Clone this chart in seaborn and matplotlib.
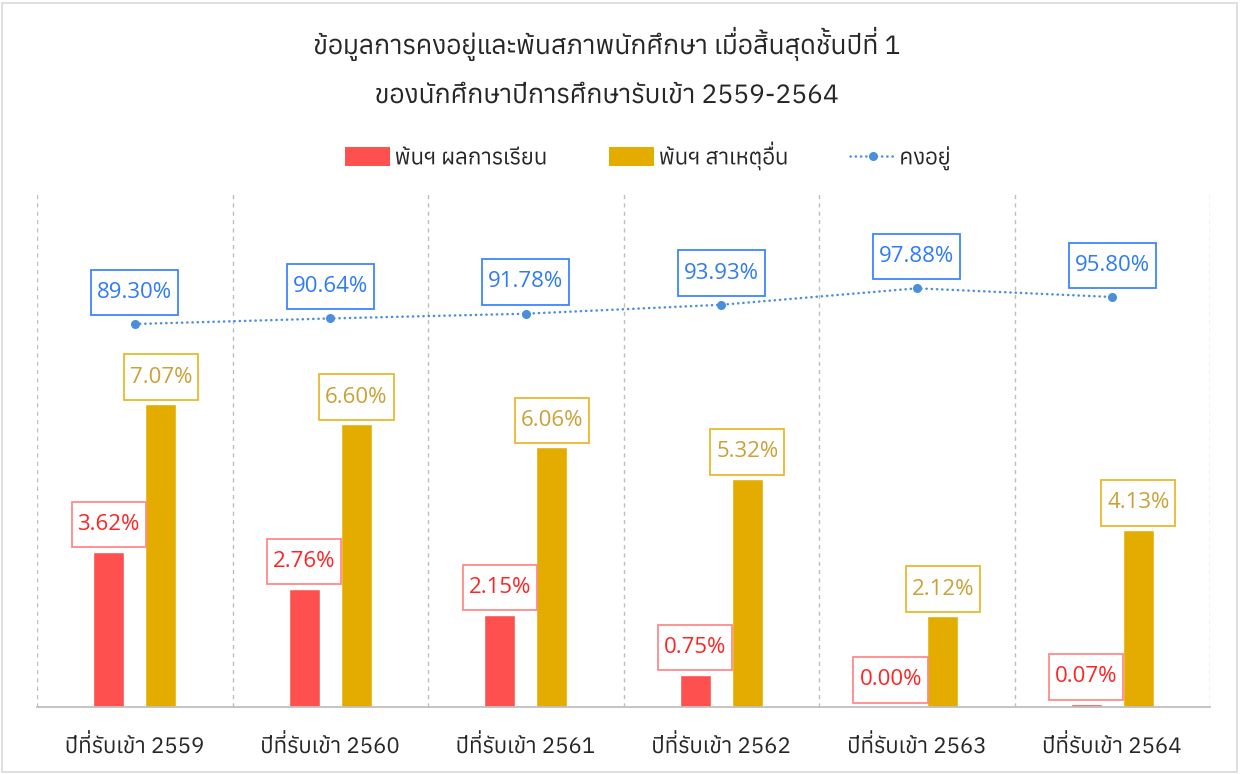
import numpy as np
import pandas as pd
import matplotlib
matplotlib.use("Agg")
import matplotlib.pyplot as plt
import seaborn as sns
from matplotlib import font_manager as fm
from matplotlib.ft2font import FT2Font
from matplotlib.path import Path
from matplotlib.patches import Patch, Rectangle, PathPatch
from matplotlib.lines import Line2D
from matplotlib.transforms import Affine2D
from matplotlib.textpath import text_to_path

# ---------------- data ----------------
categories = ["ปีที่รับเข้า 2559", "ปีที่รับเข้า 2560", "ปีที่รับเข้า 2561",
              "ปีที่รับเข้า 2562", "ปีที่รับเข้า 2563", "ปีที่รับเข้า 2564"]
dismissed_grades = [3.62, 2.76, 2.15, 0.75, 0.00, 0.07]
dismissed_other = [7.07, 6.60, 6.06, 5.32, 2.12, 4.13]
retained = [89.30, 90.64, 91.78, 93.93, 97.88, 95.80]
series_names = ["พ้นฯ ผลการเรียน", "พ้นฯ สาเหตุอื่น", "คงอยู่"]
title_lines = ["ข้อมูลการคงอยู่และพ้นสภาพนักศึกษา เมื่อสิ้นสุดชั้นปีที่ 1",
               "ของนักศึกษาปีการศึกษารับเข้า 2559-2564"]

# ---------------- styles ----------------
RED = "#FF5050"
GOLD = "#E5AC00"
BLUE_LINE = "#4A8EDC"
RED_TXT, RED_EDGE = "#FF2424", "#FF8A8A"
GOLD_TXT, GOLD_EDGE = "#C9A136", "#E9BA2E"
BLUE_TXT, BLUE_EDGE = "#2F7BF5", "#3D86FF"
DARK = "#262626"
DOTS = (0, (0.1, 2.0))


def thai_families():
    found = []
    for f in fm.fontManager.ttflist:
        try:
            cmap = FT2Font(f.fname).get_charmap()
        except Exception:
            continue
        if 0x0E01 in cmap and 0x0E49 in cmap:
            found.append(f.name)

    def rank(n):
        s = 0
        if "Serif" in n:
            s += 10
        if "Looped" in n:
            s += 2
        if "UI" in n:
            s += 1
        return s
    return sorted(set(found), key=lambda n: (rank(n), n))


sns.set_theme(style="white")
thai = thai_families()
FAM = thai[:1] + ["Open Sans", "DejaVu Sans"]
NUMFAM = ["Open Sans", "DejaVu Sans"]
plt.rcParams["font.family"] = FAM

# ---------- Thai mark stacking (matplotlib has no complex shaping) ----------
UPPER = set("\u0E31\u0E34\u0E35\u0E36\u0E37\u0E47\u0E4D")
TONE = set("\u0E48\u0E49\u0E4A\u0E4B\u0E4C")


def _real(v, c):
    if len(v) == 0:
        return v
    m = (c != Path.CLOSEPOLY) & (c != Path.STOP)
    return v[m] if m.any() else v[:0]


def shaped_path(s, prop):
    font = text_to_path._get_font(prop)
    font.set_size(text_to_path.FONT_SCALE, text_to_path.DPI)
    info, gmap, _ = text_to_path.get_glyphs_with_font(font, s)
    pieces = []
    for gid, x, y, sc in info:
        v, c = gmap[gid]
        v = np.asarray(v, float).reshape(-1, 2) * sc + [x, y]
        pieces.append([v, np.asarray(c).reshape(-1)])
    n = min(len(pieces), len(s))
    for i in range(1, n):
        if s[i] in TONE and s[i - 1] in UPPER:
            vv = _real(*pieces[i - 1])
            tv = _real(*pieces[i])
            if len(vv) and len(tv):
                shift = vv[:, 1].max() + 0.06 * text_to_path.FONT_SCALE - tv[:, 1].min()
                if shift > 0:
                    pieces[i][0][:, 1] += shift
    keep = [p for p in pieces if len(p[0])]
    verts = np.concatenate([p[0] for p in keep])
    codes = np.concatenate([p[1] for p in keep])
    real = np.concatenate([_real(*p) for p in keep])
    scale = prop.get_size_in_points() / text_to_path.FONT_SCALE
    return Path(verts * scale, codes), real * scale


def overlay(fig, t, renderer, color, baseline=None):
    s = t.get_text()
    if not s:
        return
    prop = t.get_fontproperties()
    bb = t.get_window_extent(renderer)
    _, _, d = renderer.get_text_width_height_descent(s, prop, ismath=False)
    _, _, dlp = renderer.get_text_width_height_descent("lp", prop, ismath=False)
    if baseline is None:
        baseline = bb.y0 + max(d, dlp)
    path, real = shaped_path(s, prop)
    cx = (real[:, 0].min() + real[:, 0].max()) / 2
    k = fig.dpi / 72
    tr = Affine2D().translate(-cx, 0).scale(k).translate((bb.x0 + bb.x1) / 2, baseline)
    fig.add_artist(PathPatch(path, transform=tr, fc=color, ec="none", lw=0))
    t.set_alpha(0)


def make_box(padx, pady):
    def box(x0, y0, width, height, mutation_size):
        px, py = padx * mutation_size, pady * mutation_size
        verts = [(x0 - px, y0 - py), (x0 + width + px, y0 - py),
                 (x0 + width + px, y0 + height + py), (x0 - px, y0 + height + py),
                 (x0 - px, y0 - py)]
        return Path(verts, closed=True)
    return box


LBL_FS = 16
PADX, PADY = 0.27, 0.55

W, H = 1241, 774
fig = plt.figure(figsize=(W / 100, H / 100), dpi=100)
ax = fig.add_axes([37 / W, 1 - 707 / H, (1210 - 37) / W, (707 - 193) / H])

df = pd.DataFrame({
    "category": categories * 2,
    "series": [series_names[0]] * len(categories) + [series_names[1]] * len(categories),
    "value": dismissed_grades + dismissed_other,
})
sns.barplot(data=df, x="category", y="value", hue="series", order=categories,
            hue_order=series_names[:2], palette=[RED, GOLD], saturation=1,
            width=0.532, gap=0.41, ax=ax, legend=False, errorbar=None)

ax.set_ylim(0, 12)
ax.set_xlim(-0.5, len(categories) - 0.5)
ax.set_xlabel("")
ax.set_ylabel("")
ax.set_yticks([])
ax.set_xticks(np.arange(-0.5, len(categories)), minor=True)
ax.grid(False)
ax.grid(which="minor", axis="x", color="#BDBDBD", linestyle=(0, (3, 3)), linewidth=1)
ax.tick_params(axis="x", which="both", length=0, pad=20, labelsize=16, labelcolor=DARK)
for s in ["left", "right", "top"]:
    ax.spines[s].set_visible(False)
ax.spines["bottom"].set_color("#BFBFBF")
ax.spines["bottom"].set_linewidth(1.3)


def label(axis, x, y, text, tcol, ecol, gap_pt):
    axis.annotate(text, (x, y), xytext=(0, gap_pt + PADY * LBL_FS),
                  textcoords="offset points", ha="center", va="bottom",
                  fontsize=LBL_FS, color=tcol, family=NUMFAM, zorder=5,
                  bbox=dict(boxstyle=make_box(PADX, PADY), fc="white",
                            ec=ecol, lw=1.3))


for container, vals, (tc, ec) in zip(ax.containers, [dismissed_grades, dismissed_other],
                                     [(RED_TXT, RED_EDGE), (GOLD_TXT, GOLD_EDGE)]):
    for bar, v in zip(container, vals):
        label(ax, bar.get_x() + bar.get_width() / 2, bar.get_height(),
              f"{v:.2f}%", tc, ec, 3.2)

ax2 = ax.twinx()
sns.lineplot(x=np.arange(len(categories)), y=retained, ax=ax2, color=BLUE_LINE,
             linestyle=DOTS, linewidth=1.8, marker="o", markersize=6.5,
             markeredgewidth=0, dash_capstyle="round")
ax2.set_ylim(-2.77, 120.8)
ax2.set_xlim(-0.5, len(categories) - 0.5)
ax2.set_yticks([])
ax2.set_ylabel("")
for s in ["left", "right", "top", "bottom"]:
    ax2.spines[s].set_visible(False)
for i, v in enumerate(retained):
    label(ax2, i, v, f"{v:.2f}%", BLUE_TXT, BLUE_EDGE, 6.5)

# title
t1 = fig.text(607 / W, 1 - 54 / H, title_lines[0], ha="center", va="baseline",
              fontsize=19, color=DARK)
t2 = fig.text(607 / W, 1 - 103 / H, title_lines[1], ha="center", va="baseline",
              fontsize=19, color=DARK)

# legend
handles = [Patch(facecolor=RED, edgecolor="none"),
           Patch(facecolor=GOLD, edgecolor="none"),
           Line2D([], [], color=BLUE_LINE, linestyle=DOTS, linewidth=1.8,
                  marker="o", markersize=6.5, markeredgewidth=0, dash_capstyle="round")]
leg = fig.legend(handles, series_names, loc="center", ncol=3, frameon=False,
                 bbox_to_anchor=(648 / W, 1 - 158 / H), fontsize=16,
                 handlelength=2.0, handleheight=0.9, handletextpad=0.2,
                 columnspacing=2.8, labelcolor=DARK)

fig.patches.append(Rectangle((0.002, 0.003), 0.995, 0.993, transform=fig.transFigure,
                             fill=False, ec="#D9D9D9", lw=1.2))

# render Thai strings with stacked tone marks
fig.canvas.draw()
renderer = fig.canvas.get_renderer()
overlay(fig, t1, renderer, DARK)
overlay(fig, t2, renderer, DARK)
for t in leg.get_texts():
    overlay(fig, t, renderer, DARK)
for t in ax.get_xticklabels():
    overlay(fig, t, renderer, DARK, baseline=H - 753)
ax.tick_params(axis="x", labelcolor=(0, 0, 0, 0))

fig.savefig("out.png", dpi=100, facecolor="white")
